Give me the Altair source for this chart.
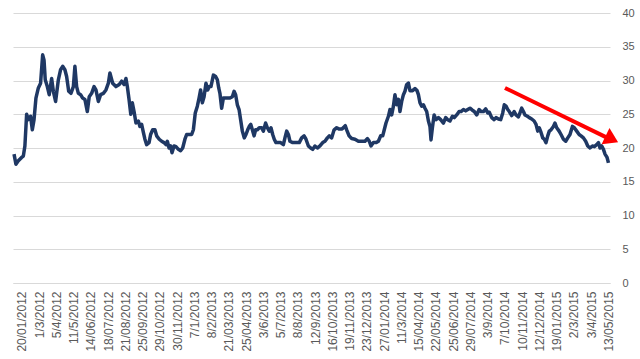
import json
import altair as alt
import pandas as pd

# x-axis category labels (one every ~24 trading days)
labels = ["20/01/2012", "1/3/2012", "5/4/2012", "11/5/2012", "14/06/2012", "18/07/2012",
          "21/08/2012", "25/09/2012", "29/10/2012", "30/11/2012", "7/1/2013", "8/2/2013",
          "21/03/2013", "25/04/2013", "3/6/2013", "5/7/2013", "8/8/2013", "12/9/2013",
          "16/10/2013", "19/11/2013", "23/12/2013", "27/01/2014", "11/3/2014", "15/04/2014",
          "22/05/2014", "25/06/2014", "29/07/2014", "3/9/2014", "7/10/2014", "10/11/2014",
          "12/12/2014", "19/01/2015", "2/3/2015", "3/4/2015", "13/05/2015"]

# position along the time axis, in label periods (0 = first label)
pos = [-0.46, -0.35, -0.21, -0.02, 0.08, 0.17, 0.27, 0.37, 0.50, 0.60, 0.70, 0.81, 0.95, 1.08,
       1.20, 1.28, 1.35, 1.47, 1.58, 1.72, 1.82, 1.95, 2.11, 2.24, 2.36, 2.49, 2.59, 2.71, 2.84,
       2.98, 3.07, 3.17, 3.27, 3.40, 3.52, 3.65, 3.79, 3.90, 4.04, 4.18, 4.29, 4.43, 4.56, 4.72,
       4.87, 5.01, 5.10, 5.26, 5.45, 5.64, 5.78, 5.92, 6.03, 6.11, 6.21, 6.31, 6.40, 6.50, 6.61,
       6.75, 6.84, 6.94, 7.04, 7.13, 7.23, 7.37, 7.46, 7.58, 7.71, 7.81, 7.96, 8.10, 8.24, 8.35,
       8.43, 8.53, 8.62, 8.70, 8.82, 8.93, 9.07, 9.20, 9.32, 9.45, 9.55, 9.70, 9.84, 9.94, 10.05,
       10.17, 10.27, 10.36, 10.46, 10.56, 10.67, 10.77, 10.86, 10.96, 11.10, 11.23, 11.33, 11.41,
       11.48, 11.58, 11.68, 11.87, 12.06, 12.20, 12.30, 12.39, 12.49, 12.59, 12.68, 12.78, 12.89,
       12.99, 13.09, 13.18, 13.27, 13.36, 13.46, 13.55, 13.65, 13.76, 13.90, 14.00, 14.13, 14.23,
       14.34, 14.44, 14.54, 14.63, 14.73, 14.87, 15.00, 15.16, 15.25, 15.35, 15.45, 15.54, 15.70,
       15.83, 15.97, 16.08, 16.22, 16.36, 16.47, 16.61, 16.74, 16.86, 16.99, 17.13, 17.28, 17.44,
       17.57, 17.71, 17.82, 17.96, 18.10, 18.25, 18.40, 18.54, 18.64, 18.75, 18.83, 18.97, 19.12,
       19.31, 19.51, 19.70, 19.89, 20.03, 20.14, 20.24, 20.38, 20.53, 20.67, 20.80, 20.92, 21.01,
       21.11, 21.25, 21.34, 21.44, 21.54, 21.63, 21.73, 21.83, 21.92, 22.02, 22.12, 22.21, 22.31,
       22.41, 22.50, 22.65, 22.79, 22.91, 22.99, 23.08, 23.18, 23.28, 23.37, 23.47, 23.57, 23.66,
       23.72, 23.80, 23.90, 24.01, 24.15, 24.28, 24.44, 24.57, 24.69, 24.82, 24.96, 25.07, 25.21,
       25.35, 25.46, 25.60, 25.73, 25.85, 25.98, 26.12, 26.23, 26.37, 26.51, 26.62, 26.76, 26.89,
       27.01, 27.10, 27.24, 27.38, 27.49, 27.63, 27.76, 27.88, 27.97, 28.07, 28.17, 28.26, 28.40,
       28.54, 28.65, 28.79, 28.88, 28.98, 29.08, 29.17, 29.31, 29.42, 29.56, 29.70, 29.81, 29.91,
       30.00, 30.10, 30.20, 30.29, 30.39, 30.49, 30.58, 30.68, 30.82, 30.91, 31.01, 31.15, 31.26,
       31.40, 31.53, 31.65, 31.78, 31.92, 32.03, 32.17, 32.31, 32.42, 32.56, 32.69, 32.81, 32.94,
       33.08, 33.19, 33.33, 33.43, 33.52, 33.62, 33.72, 33.81, 33.93, 34.01]

vol = [19.1, 17.6, 18.1, 18.6, 18.8, 20.3, 25.0, 24.2, 24.7, 22.7, 24.2, 27.4, 28.9, 29.6,
       33.8, 33.0, 30.1, 29.1, 27.9, 30.3, 28.4, 26.9, 30.1, 31.6, 32.1, 31.6, 30.6, 28.4, 28.1,
       29.1, 32.1, 29.1, 28.1, 27.9, 27.4, 27.2, 25.4, 27.6, 28.1, 29.1, 28.6, 26.9, 27.9, 28.1,
       28.6, 29.6, 31.1, 29.6, 29.1, 29.4, 29.9, 29.4, 30.3, 29.1, 27.2, 25.0, 26.7, 25.4, 23.7,
       24.0, 23.2, 23.5, 22.3, 21.3, 20.5, 20.8, 22.0, 22.7, 22.7, 21.8, 21.3, 21.0, 20.8, 20.5,
       21.0, 20.0, 20.3, 19.3, 20.3, 20.2, 19.8, 19.6, 20.0, 21.3, 22.0, 22.0, 22.0, 22.7, 25.2,
       26.2, 27.4, 28.6, 26.7, 27.6, 29.6, 28.6, 29.1, 29.1, 30.8, 30.6, 30.1, 28.9,
       28.1, 25.9, 27.4, 27.4, 27.4, 27.6, 28.4, 27.9, 26.4, 25.7, 24.2, 22.5, 21.5,
       22.0, 22.7, 23.2, 23.5, 22.7, 21.8, 22.7, 22.7, 23.0, 23.0, 22.5, 23.7, 23.0,
       22.5, 23.0, 22.0, 21.3, 20.8, 20.8, 20.8, 20.5, 21.5, 22.5, 22.0, 21.0, 20.8,
       20.8, 20.8, 20.8, 21.5, 21.8, 21.3, 20.3, 20.0, 19.8, 20.3, 20.0, 20.3, 20.8,
       21.0, 21.5, 21.8, 21.5, 22.7, 23.0, 22.8, 22.8, 23.0, 23.3, 22.7, 21.8, 21.4,
       21.3, 21.0, 21.0, 21.0, 21.4, 21.0, 20.3, 20.8, 20.8, 21.0, 21.8, 21.8, 22.7,
       23.7, 24.7, 25.7, 24.9, 26.2, 27.9, 26.4, 27.2, 25.4, 26.9, 27.9, 28.4, 29.4,
       29.6, 28.5, 28.5, 28.8, 28.5, 27.9, 26.7, 26.2, 26.4, 25.9, 25.4, 24.0, 23.2,
       21.2, 23.0, 24.9, 24.2, 24.5, 24.2, 23.7, 24.5, 24.2, 24.0, 24.7, 24.5, 24.9,
       25.4, 25.4, 25.7, 25.5, 25.7, 25.9, 25.6, 25.4, 24.9, 25.7, 25.4, 25.4, 25.8,
       25.2, 25.3, 24.5, 24.2, 24.5, 24.3, 24.2, 25.2, 26.4, 26.2, 25.7, 25.4, 24.8,
       25.4, 24.9, 24.6, 25.2, 25.9, 25.4, 24.9, 24.7, 24.5, 24.3, 24.0, 23.5, 22.5,
       23.0, 22.3, 21.5, 21.3, 20.8, 21.8, 22.5, 22.7, 23.2, 23.7, 23.0, 22.5, 22.0,
       21.3, 21.0, 21.5, 22.0, 23.2, 23.0, 22.5, 22.0, 21.8, 21.5, 21.0, 20.3, 20.0,
       20.3, 20.2, 20.5, 20.8, 20.0, 20.3, 19.8, 19.1, 18.6, 17.8]

y_ticks = [0, 5, 10, 15, 20, 25, 30, 35, 40]

# red trend arrow (annotation, in data units: period, value)
arrow_pos = [28.01, 33.95]
arrow_val = [28.9, 21.5]
arrow_tip_pos = [34.57]
arrow_tip_val = [20.84]

df = pd.DataFrame({"pos": pos, "vol": vol})
df_arrow = pd.DataFrame({"pos": arrow_pos, "vol": arrow_val})
df_tip = pd.DataFrame({"pos": arrow_tip_pos, "vol": arrow_tip_val})

label_expr = json.dumps(labels) + "[datum.value]"

x_enc = alt.X(
    "pos:Q",
    scale=alt.Scale(domain=[-0.52, 34.1], nice=False, zero=False),
    axis=alt.Axis(
        values=list(range(len(labels))), labelExpr=label_expr, labelAngle=-90,
        grid=False, ticks=False, domain=True, domainColor="#d9d9d9",
        labelColor="#595959", labelFontSize=12, labelFont="Liberation Sans",
        labelPadding=8, labelOverlap=False, labelFlush=False, title=None,
    ),
)
y_enc = alt.Y(
    "vol:Q",
    scale=alt.Scale(domain=[0, 40], nice=False),
    axis=alt.Axis(
        orient="right", values=y_ticks, grid=True, gridColor="#d9d9d9", gridWidth=1,
        ticks=False, domain=False, labelColor="#595959", labelFontSize=11,
        labelFont="Liberation Sans", labelPadding=12, title=None,
    ),
)

line = alt.Chart(df).mark_line(color="#1f3864", strokeWidth=3.5, strokeJoin="round").encode(
    x=x_enc, y=y_enc
)
arrow_line = alt.Chart(df_arrow).mark_line(color="#ff0000", strokeWidth=4, clip=False).encode(
    x=x_enc, y=y_enc
)
arrow_head = alt.Chart(df_tip).mark_point(
    shape="M0,0 L-1.4,-0.9 L-1.4,0.9 Z", size=400, filled=True, color="#ff0000",
    opacity=1, angle=26, strokeWidth=0, clip=False,
).encode(x=x_enc, y=y_enc)

chart = alt.layer(line, arrow_line, arrow_head).properties(
    width=597, height=270,
    padding={"left": 13, "top": 13, "right": 30, "bottom": 76},
    autosize=alt.AutoSizeParams(type="none"),
    background="white",
).configure_view(stroke=None)

chart.save("out.html", embed_options={"renderer": "svg", "actions": False})
